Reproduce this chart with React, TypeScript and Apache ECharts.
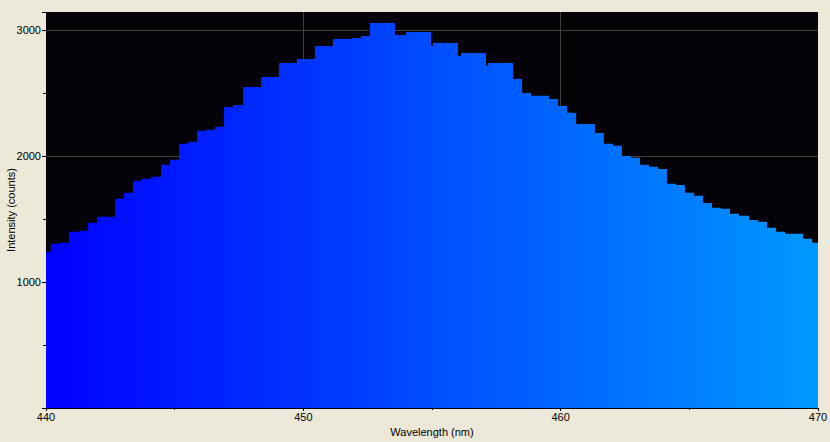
import React, { useEffect, useRef } from "react";
import * as echarts from "echarts";

// Bin edges along the wavelength axis (nm); one more edge than intensity values
const binEdges: number[] = [
  440.0, 440.19, 440.54, 440.89, 441.28, 441.63, 441.98, 442.33, 442.68, 443.03,
  443.38, 443.73, 444.08, 444.47, 444.82, 445.17, 445.52, 445.87, 446.22, 446.57,
  446.92, 447.27, 447.66, 448.01, 448.36, 448.71, 449.05, 449.4, 449.75, 450.1,
  450.45, 450.8, 451.15, 451.52, 451.89, 452.24, 452.59, 453.56, 453.99, 454.96,
  455.04, 456.01, 456.13, 457.1, 457.18, 458.15, 458.5, 458.85, 459.2, 459.55,
  459.9, 460.25, 460.6, 460.95, 461.33, 461.68, 462.03, 462.38, 462.73, 463.08,
  463.43, 463.78, 464.13, 464.48, 464.83, 465.18, 465.53, 465.88, 466.23, 466.58,
  466.93, 467.32, 467.67, 468.02, 468.37, 468.72, 469.07, 469.42, 469.77, 470.0,
];

// Intensity (counts) of each bin
const intensity: number[] = [
  1240, 1304, 1312, 1399, 1407, 1471, 1518, 1518, 1661, 1709,
  1804, 1820, 1836, 1931, 1971, 2098, 2114, 2201, 2209, 2233,
  2391, 2407, 2550, 2550, 2629, 2629, 2740, 2740, 2772, 2772,
  2875, 2875, 2931, 2931, 2939, 2955, 3058, 2963, 2987, 2877,
  2899, 2798, 2820, 2719, 2740, 2613, 2502, 2479, 2479, 2455,
  2399, 2344, 2256, 2256, 2185, 2098, 2082, 2002, 1987, 1931,
  1915, 1899, 1780, 1772, 1709, 1685, 1629, 1590, 1582, 1542,
  1526, 1494, 1479, 1431, 1399, 1383, 1383, 1344, 1312,
];

const xTitle = "Wavelength (nm)";
const yTitle = "Intensity (counts)";

const FONT = "'Liberation Sans', Arial, sans-serif";

export default function App() {
  const ref = useRef<HTMLDivElement>(null);

  useEffect(() => {
    document.body.style.margin = "0";
    document.body.style.background = "#ECE9D8";
    if (!ref.current) return;
    const chart = echarts.init(ref.current, undefined, { renderer: "svg" });

    const seriesData = binEdges.map((e, i) => [
      e,
      intensity[Math.min(i, intensity.length - 1)],
    ]);

    chart.setOption({
      animation: false,
      backgroundColor: "#ECE9D8",
      grid: {
        left: 46,
        right: 12,
        top: 12,
        bottom: 34,
        containLabel: false,
        outerBoundsMode: "none",
        show: true,
        backgroundColor: "#050307",
        borderWidth: 0,
      },
      xAxis: {
        type: "value",
        min: 440,
        max: 470,
        interval: 10,
        name: xTitle,
        nameLocation: "middle",
        nameGap: 18,
        nameMoveOverlap: false,
        nameTextStyle: { color: "#000", fontSize: 11, fontFamily: FONT },
        axisLine: { show: true, lineStyle: { color: "#000", width: 1 } },
        axisTick: { show: true, length: 3, lineStyle: { color: "#000" } },
        minorTick: { show: true, splitNumber: 2, length: 2, lineStyle: { color: "#000" } },
        axisLabel: {
          color: "#000",
          fontSize: 11,
          fontFamily: FONT,
          margin: 3,
          formatter: (v: number) => String(v),
        },
        splitLine: {
          show: true,
          showMinLine: false,
          showMaxLine: false,
          lineStyle: { color: "#404040", width: 1 },
        },
      },
      yAxis: {
        type: "value",
        min: 0,
        max: 3145,
        interval: 1000,
        name: yTitle,
        nameLocation: "middle",
        nameRotate: 90,
        nameGap: 30,
        nameMoveOverlap: false,
        nameTextStyle: { color: "#000", fontSize: 11, fontFamily: FONT },
        axisLine: { show: false },
        axisTick: { show: true, length: 4, lineStyle: { color: "#000" } },
        minorTick: { show: true, splitNumber: 2, length: 3, lineStyle: { color: "#000" } },
        axisLabel: {
          color: "#000",
          fontSize: 11,
          fontFamily: FONT,
          margin: 5,
          showMinLabel: false,
          showMaxLabel: false,
          formatter: (v: number) => String(v),
        },
        splitLine: {
          show: true,
          showMinLine: false,
          showMaxLine: false,
          lineStyle: { color: "#404040", width: 1 },
        },
      },
      series: [
        {
          type: "line",
          step: "end",
          data: seriesData,
          symbol: "none",
          showSymbol: false,
          silent: true,
          clip: true,
          lineStyle: { width: 0 },
          areaStyle: {
            opacity: 1,
            color: new echarts.graphic.LinearGradient(0, 0, 1, 0, [
              { offset: 0, color: "#0000ff" },
              { offset: 1, color: "#0099ff" },
            ]),
          },
        },
      ],
    });

    return () => chart.dispose();
  }, []);

  return <div ref={ref} style={{ width: 830, height: 442, background: "#ECE9D8" }} />;
}
